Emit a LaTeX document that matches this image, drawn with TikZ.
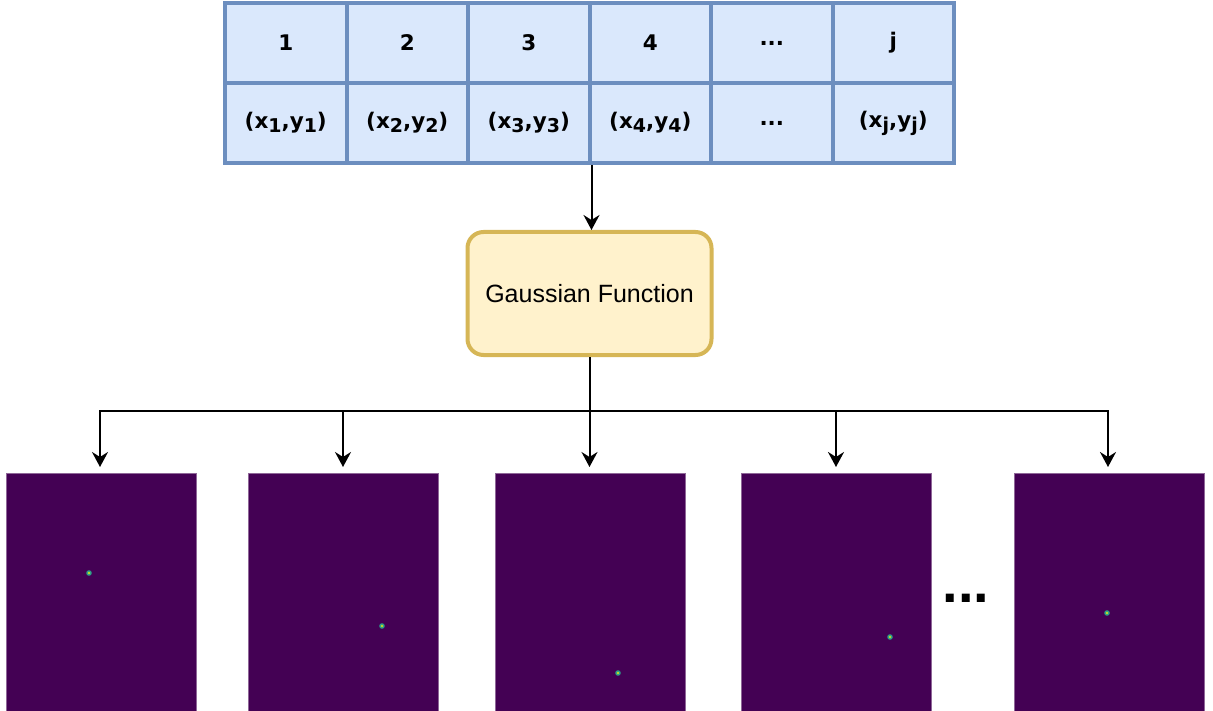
\documentclass[tikz,border=0pt]{standalone}
\usepackage{fontspec}
\setmainfont{Liberation Sans}
\newfontfamily\tblfont{DejaVu Sans}
\usetikzlibrary{arrows.meta,calc}
\definecolor{cellfill}{HTML}{DAE8FC}
\definecolor{celldraw}{HTML}{6C8EBF}
\definecolor{gfill}{HTML}{FFF2CC}
\definecolor{gdraw}{HTML}{D6B656}
\definecolor{viridark}{HTML}{440154}
\definecolor{viriteal}{HTML}{2A9C8A}
\definecolor{viriyel}{HTML}{C8E020}
\newcommand{\sbs}[1]{\raisebox{-0.35ex}{\fontsize{19}{19}\selectfont #1}}
\tikzset{
  cell/.style={draw=celldraw, fill=cellfill, line width=4pt, minimum width=121.5pt, minimum height=80pt, inner sep=0pt, font=\tblfont\bfseries\fontsize{21.5}{25}\selectfont},
  gbox/.style={draw=gdraw, fill=gfill, line width=4pt, rounded corners=16pt, minimum width=244pt, minimum height=123pt, font=\fontsize{25}{29}\selectfont},
  heat/.style={fill=viridark, draw=viridark!60!white, line width=0.6pt, minimum width=190pt, minimum height=240pt, inner sep=0pt, anchor=north},
  conn/.style={line width=2pt, -{Stealth[length=15pt,width=16pt,inset=5pt]}},
  line/.style={line width=2pt}
}
\begin{document}
\begin{tikzpicture}[x=1pt,y=-1pt]
\useasboundingbox (0,0) rectangle (1213,711);
% table
\node[cell] (c11) at ({225+0.5*121.5},43) {1};
\node[cell] (c12) at ({225+1.5*121.5},43) {2};
\node[cell] (c13) at ({225+2.5*121.5},43) {3};
\node[cell] (c14) at ({225+3.5*121.5},43) {4};
\node[cell] (c15) at ({225+4.5*121.5},43) {...};
\node[cell] (c16) at ({225+5.5*121.5},43) {j};
\node[cell] (c21) at ({225+0.5*121.5},123) {(x\sbs{1},y\sbs{1})};
\node[cell] (c22) at ({225+1.5*121.5},123) {(x\sbs{2},y\sbs{2})};
\node[cell] (c23) at ({225+2.5*121.5},123) {(x\sbs{3},y\sbs{3})};
\node[cell] (c24) at ({225+3.5*121.5},123) {(x\sbs{4},y\sbs{4})};
\node[cell] (c25) at ({225+4.5*121.5},123) {...};
\node[cell] (c26) at ({225+5.5*121.5},123) {(x\sbs{j},y\sbs{j})};
% gaussian
\node[gbox] (gauss) at (589.5,293.5) {Gaussian Function};
\draw[conn] (c23.south east) -- (c23.south east |- gauss.north);
% images
\node[heat] (img1) at (101,473) {};
\node[heat] (img2) at (343,473) {};
\node[heat] (img3) at (590,473) {};
\node[heat] (img4) at (836,473) {};
\node[heat] (img5) at (1109,473) {};
% spots
\foreach \x/\y in {89/573, 382/626, 618/673, 890/637, 1107/613}{
  \fill[viriteal] (\x,\y) circle (2.8pt);
  \fill[viriyel] (\x,\y) circle (1.4pt);
}
% connectors
\coordinate (bus) at (589.5,411);
\draw[line] (gauss.south) -- (bus);
\foreach \k/\x in {1/100,2/343,3/589.5,4/836,5/1108}{
  \coordinate (t\k) at (\x,467);
  \draw[conn] (bus) -| (t\k);
}
% ellipsis
\node[font=\bfseries\fontsize{56}{56}\selectfont, inner sep=0pt] (ell) at (966,598) {...};
\end{tikzpicture}
\end{document}
